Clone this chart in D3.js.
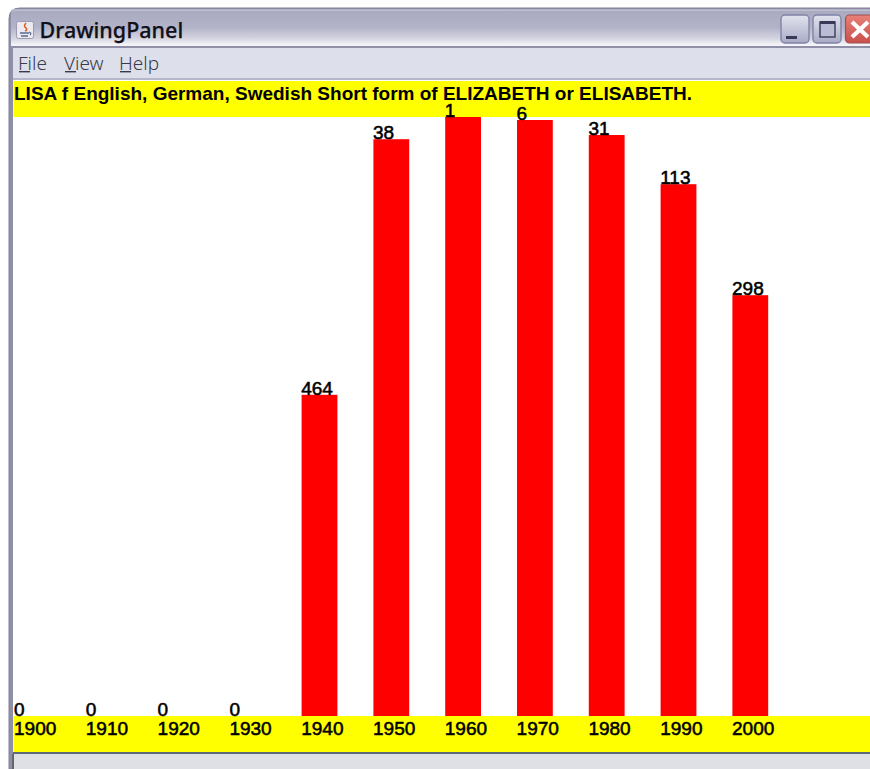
<!DOCTYPE html>
<html><head><meta charset="utf-8">
<script src="https://cdn.jsdelivr.net/npm/d3@7"></script>
<style>html,body{margin:0;padding:0;background:#fff}svg{display:block}text{white-space:pre}</style>
</head><body><div id="c"></div>
<script>
const years = [1900,1910,1920,1930,1940,1950,1960,1970,1980,1990,2000];
const ranks = [0,0,0,0,464,38,1,6,31,113,298];
const heading = "LISA f English, German, Swedish Short form of ELIZABETH or ELISABETH.";
const menuItems = ["File","View","Help"];
const windowTitle = "DrawingPanel";

const W=870,H=769;
const svg=d3.select("#c").append("svg").attr("width",W).attr("height",H);
const defs=svg.append("defs");
const tg=defs.append("linearGradient").attr("id","tb").attr("gradientUnits","userSpaceOnUse").attr("x1",0).attr("x2",0).attr("y1",9).attr("y2",45);
[[0,"#a8a8bf"],[.5,"#b2b2c8"],[.8,"#d2d2df"],[1,"#f4f4f8"]].forEach(d=>tg.append("stop").attr("offset",d[0]).attr("stop-color",d[1]));
const bg=defs.append("linearGradient").attr("id","btn").attr("x1",0).attr("x2",0).attr("y1",0).attr("y2",1);
bg.append("stop").attr("offset",0).attr("stop-color","#e2e3ee");bg.append("stop").attr("offset",1).attr("stop-color","#a9abc6");
const rg=defs.append("linearGradient").attr("id","red").attr("x1",0).attr("x2",0).attr("y1",0).attr("y2",1);
rg.append("stop").attr("offset",0).attr("stop-color","#e88078");rg.append("stop").attr("offset",1).attr("stop-color","#c9504c");

// window frame
svg.append("path").attr("d",`M9 ${H}V19Q9 8 20 8H${W}V${H}Z`).attr("fill","#8f90a8").attr("stroke","#80809a").attr("stroke-width",1);
svg.append("rect").attr("x",11).attr("y",10).attr("width",W).attr("height",36).attr("fill","url(#tb)");
svg.append("path").attr("d",`M12 10H${W}`).attr("stroke","#d4d4e0").attr("stroke-width",1);
// menu bar
svg.append("rect").attr("x",13).attr("y",48).attr("width",W).attr("height",30).attr("fill","#dde0ea");
svg.append("rect").attr("x",13).attr("y",78).attr("width",W).attr("height",2).attr("fill","#b5b8c8");
// content
svg.append("rect").attr("x",13).attr("y",80).attr("width",W).attr("height",673).attr("fill","#fff");
// status strip
svg.append("rect").attr("x",13).attr("y",752).attr("width",W).attr("height",2).attr("fill","#5c6a78");
svg.append("rect").attr("x",13).attr("y",754).attr("width",W).attr("height",15).attr("fill","#dfdfe6");
svg.append("rect").attr("x",12).attr("y",754).attr("width",2).attr("height",15).attr("fill","#666");

// title bar
const ic=svg.append("g");
ic.append("rect").attr("x",16.5).attr("y",21.5).attr("width",17).attr("height",17).attr("rx",2).attr("fill","#eceaf0").attr("stroke","#9a9ab0");
ic.append("path").attr("d","M26 23q-3 3 0 5q2 2-1 3").attr("fill","none").attr("stroke","#d8642c").attr("stroke-width",1.6);
ic.append("path").attr("d","M20 33h9M21 36h7M29 32q3 1 1 3").attr("fill","none").attr("stroke","#5a6a90").attr("stroke-width",1.3);
svg.append("text").text(windowTitle).attr("x",39.5).attr("y",38).attr("font-family","Noto Sans").attr("font-size",21.5).attr("font-weight",500).attr("fill","#10101a").attr("stroke","#10101a").attr("stroke-width",0.25);

// window buttons
const btn=svg.append("g");
btn.append("rect").attr("x",781).attr("y",15).attr("width",28).attr("height",28).attr("rx",4).attr("fill","url(#btn)").attr("stroke","#7f83a6").attr("stroke-width",1.4);
btn.append("rect").attr("x",786).attr("y",36).attr("width",11).attr("height",3).attr("fill","#3a3a58");
btn.append("rect").attr("x",813).attr("y",15).attr("width",28).attr("height",28).attr("rx",4).attr("fill","url(#btn)").attr("stroke","#7f83a6").attr("stroke-width",1.4);
btn.append("rect").attr("x",820).attr("y",22).attr("width",15).attr("height",15).attr("fill","#b9bcd2").attr("stroke","#3a3a58").attr("stroke-width",1.4);
btn.append("rect").attr("x",820).attr("y",21).attr("width",15).attr("height",3).attr("fill","#3a3a58");
btn.append("rect").attr("x",845.5).attr("y",15).attr("width",32).attr("height",28).attr("rx",4).attr("fill","url(#red)").attr("stroke","#a05050").attr("stroke-width",1.2);
btn.append("path").attr("d","M852 22L868 37M868 22L852 37").attr("stroke","#fff").attr("stroke-width",4.2);

// menu
const menuX=[18,64,119], menuFont=19;
svg.selectAll(".menu").data(menuItems).join("text").attr("class","menu").text(d=>d)
 .attr("x",(d,i)=>menuX[i]).attr("y",69.5).attr("font-family","Noto Sans").attr("font-size",menuFont).attr("font-weight",300).attr("fill","#3a3a4a");
svg.selectAll(".mu").data(menuItems).join("rect").attr("class","mu")
 .attr("x",(d,i)=>menuX[i]+1).attr("y",71).attr("width",11).attr("height",1.4).attr("fill","#3a3a4a");

// yellow bands
svg.append("rect").attr("x",13.5).attr("y",81).attr("width",W).attr("height",36).attr("fill","#ffff00");
svg.append("rect").attr("x",13.5).attr("y",716).attr("width",W).attr("height",36).attr("fill","#ffff00");

const x=d3.scaleLinear().domain([1900,1910]).range([14.4,86.2]);
const y=d3.scaleLinear().domain([1,1000]).range([117,716.4]);
const barW=35.8;
const font="Liberation Sans";

svg.selectAll(".bar").data(years.map((yr,i)=>({yr,r:ranks[i]})).filter(d=>d.r>0)).join("rect").attr("class","bar")
 .attr("x",d=>x(d.yr)).attr("y",d=>y(d.r)).attr("width",barW).attr("height",d=>716-y(d.r)).attr("fill","#ff0000");

svg.append("text").text(heading).attr("x",14).attr("y",100).attr("font-family",font).attr("font-weight",700).attr("font-size",19).attr("fill","#000");

const numStyle=s=>s.attr("font-family",font).attr("font-size",19).attr("font-weight",400).attr("fill","#000").attr("stroke","#000").attr("stroke-width",0.55);
svg.selectAll(".yl").data(years).join("text").attr("class","yl").text(d=>d)
 .attr("x",d=>x(d)-0.4).attr("y",735).call(numStyle);

svg.selectAll(".rl").data(years.map((yr,i)=>({yr,r:ranks[i]}))).join("text").attr("class","rl").text(d=>d.r)
 .attr("x",d=>x(d.yr)-0.4).attr("y",d=>(d.r>0?y(d.r):716)).call(numStyle);
</script></body></html>
